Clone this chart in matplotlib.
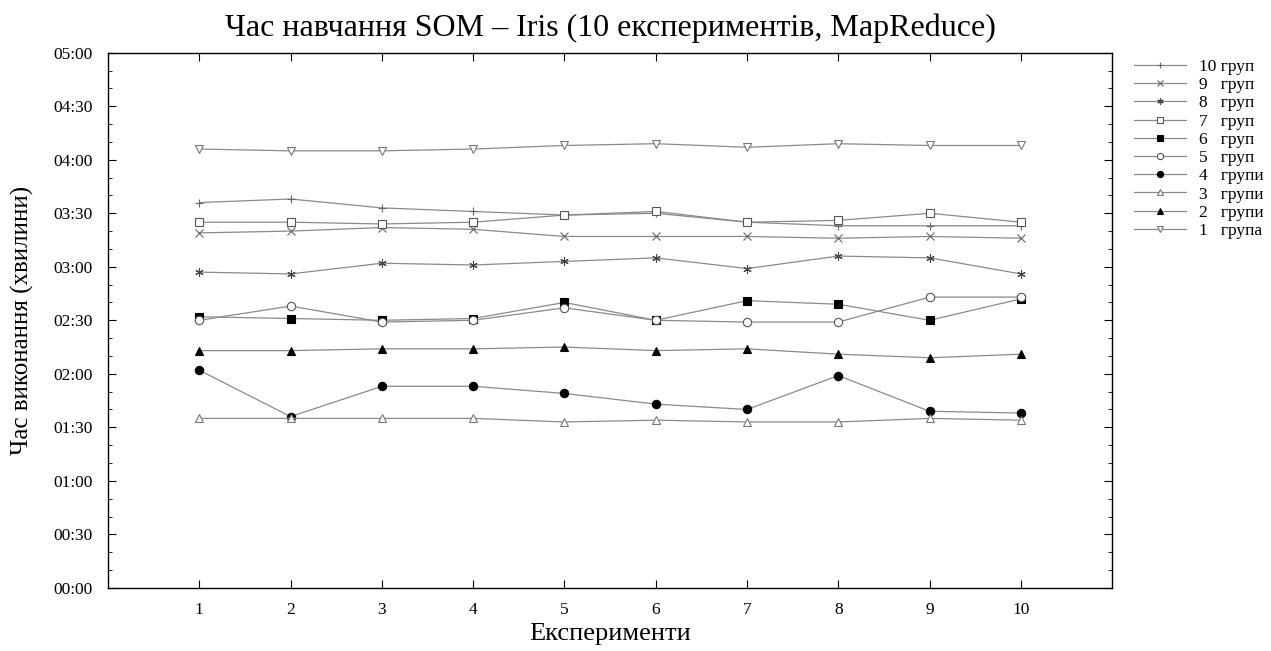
import matplotlib
matplotlib.use("Agg")
import matplotlib.pyplot as plt
from matplotlib.ticker import FuncFormatter, MultipleLocator

plt.rcParams['font.family'] = ['Liberation Serif', 'DejaVu Serif']

# час у секундах, 10 експериментів
eksperymenty = [1, 2, 3, 4, 5, 6, 7, 8, 9, 10]
grupy = ["10 груп", "9   груп", "8   груп", "7   груп", "6   груп",
         "5   груп", "4   групи", "3   групи", "2   групи", "1   група"]
g10 = [216, 218, 213, 211, 209, 210, 205, 203, 203, 203]
g9 = [199, 200, 202, 201, 197, 197, 197, 196, 197, 196]
g8 = [177, 176, 182, 181, 183, 185, 179, 186, 185, 176]
g7 = [205, 205, 204, 205, 209, 211, 205, 206, 210, 205]
g6 = [152, 151, 150, 151, 160, 150, 161, 159, 150, 162]
g5 = [150, 158, 149, 150, 157, 150, 149, 149, 163, 163]
g4 = [122, 96, 113, 113, 109, 103, 100, 119, 99, 98]
g3 = [95, 95, 95, 95, 93, 94, 93, 93, 95, 94]
g2 = [133, 133, 134, 134, 135, 133, 134, 131, 129, 131]
g1 = [246, 245, 245, 246, 248, 249, 247, 249, 248, 248]

seriyi = [g10, g9, g8, g7, g6, g5, g4, g3, g2, g1]
markery = ['+', 'x', (6, 2, 0), 's', 's', 'o', 'o', '^', '^', 'v']
zalyvka = ['none', 'none', 'none', 'white', 'black', 'white', 'black', 'white', 'black', 'white']
kraj = ['#666666', '#666666', '#444444', '#555555', 'black', '#555555', 'black', '#777777', 'black', '#777777']

fig = plt.figure(figsize=(12.71, 6.51), dpi=100)
ax = fig.add_axes([0.085, 0.097, 0.79, 0.822])

for dani, lab, m, fc, ec in zip(seriyi, grupy, markery, zalyvka, kraj):
    ax.plot(eksperymenty, dani, color='#8a8a8a', lw=0.9, marker=m,
            markersize=6, markerfacecolor=fc, markeredgecolor=ec,
            markeredgewidth=0.8, label=lab)

ax.set_xlim(0, 11)
ax.set_ylim(0, 300)
ax.set_xticks(eksperymenty)
ax.yaxis.set_major_locator(MultipleLocator(30))
ax.yaxis.set_minor_locator(MultipleLocator(10))
ax.yaxis.set_major_formatter(FuncFormatter(lambda v, p: "%02d:%02d" % (int(v) // 60, int(v) % 60)))
ax.tick_params(direction='in', which='both', top=True, right=True, labelsize=12.5)
ax.tick_params(which='major', length=6)
ax.tick_params(which='minor', length=3)
ax.tick_params(axis='x', pad=10)
ax.tick_params(axis='y', pad=11)
for s in ax.spines.values():
    s.set_linewidth(1.0)

ax.set_title("Час навчання SOM – Iris (10 експериментів, MapReduce)", fontsize=23, pad=12)
ax.set_xlabel("Експерименти", fontsize=19, labelpad=4)
ax.set_ylabel("Час виконання (хвилини)", fontsize=18, labelpad=14)

ax.legend(loc='upper left', bbox_to_anchor=(1.006, 1.018), frameon=False,
          fontsize=12.5, handlelength=3.0, handletextpad=0.75,
          labelspacing=0.12, markerscale=0.75)

fig.savefig("out.png", dpi=100)
